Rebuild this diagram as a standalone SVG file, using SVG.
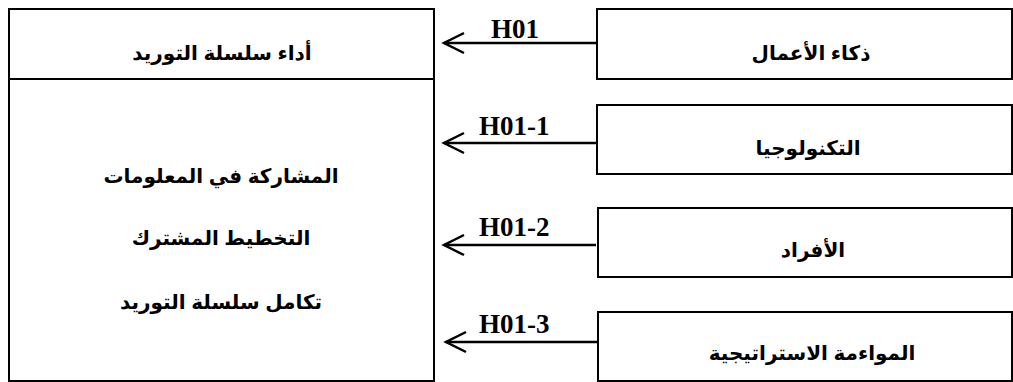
<svg xmlns="http://www.w3.org/2000/svg" width="1013" height="382" viewBox="0 0 1013 382">
<style>
.box{fill:#fff;stroke:#000;stroke-width:2}
.ar{font-family:"Liberation Sans","DejaVu Sans",sans-serif;font-weight:bold;font-size:20px;fill:#000;text-anchor:middle}
.lbl{font-family:"Liberation Serif",serif;font-weight:bold;font-size:27px;fill:#000}
.con{stroke:#000;stroke-width:2.5;fill:none}
</style>
<defs>
<marker id="arr" markerWidth="26" markerHeight="26" refX="21" refY="12" orient="auto" markerUnits="userSpaceOnUse">
<path d="M1 2 L21 12 L1 22" fill="none" stroke="#000" stroke-width="2.5"/>
</marker>
</defs>
<rect width="1013" height="382" fill="#fff"/>
<g id="perf">
<rect class="box" x="9" y="9" width="425" height="372"/>
<line x1="9" y1="79" x2="434" y2="79" stroke="#000" stroke-width="2"/>
<text class="ar" x="222" y="60" direction="rtl">أداء سلسلة التوريد</text>
<text class="ar" x="221" y="183" direction="rtl">المشاركة في المعلومات</text>
<text class="ar" x="221" y="245" direction="rtl">التخطيط المشترك</text>
<text class="ar" x="221" y="309" direction="rtl">تكامل سلسلة التوريد</text>
</g>
<g id="bi">
<rect class="box" x="597" y="9" width="415" height="70"/>
<text class="ar" x="811" y="60" direction="rtl">ذكاء الأعمال</text>
</g>
<g id="tech">
<rect class="box" x="597" y="105" width="415" height="69"/>
<text class="ar" x="808" y="155" direction="rtl">التكنولوجيا</text>
</g>
<g id="people">
<rect class="box" x="598" y="208" width="414" height="69"/>
<text class="ar" x="813" y="257" direction="rtl">الأفراد</text>
</g>
<g id="align">
<rect class="box" x="598" y="312" width="414" height="69"/>
<text class="ar" x="812" y="360" direction="rtl">المواءمة الاستراتيجية</text>
</g>
<g id="connectors">
<line class="con" x1="596" y1="43" x2="444" y2="43" marker-end="url(#arr)"/>
<line class="con" x1="596" y1="143" x2="444" y2="143" marker-end="url(#arr)"/>
<line class="con" x1="596" y1="245" x2="444" y2="245" marker-end="url(#arr)"/>
<line class="con" x1="597" y1="342" x2="446" y2="342" marker-end="url(#arr)"/>
<text class="lbl" x="491" y="38">H01</text>
<text class="lbl" x="479" y="135">H01-1</text>
<text class="lbl" x="479" y="236">H01-2</text>
<text class="lbl" x="479" y="333">H01-3</text>
</g>
</svg>
